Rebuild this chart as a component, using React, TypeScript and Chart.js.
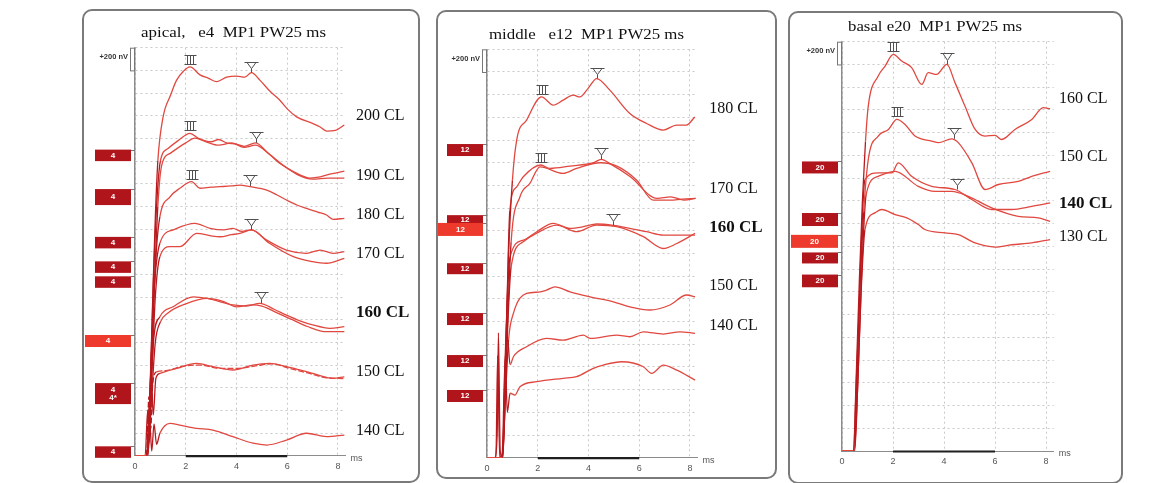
import React, { useEffect, useRef } from 'react';
import { Chart, registerables } from 'chart.js';

Chart.register(...registerables);

type Pt = [number, number];
type Peak = [string, number, number];

// x: time in ms, y: vertical position in divisions of 200 nV from the bottom of the plot

// ---------------- apical, e4 ----------------
const apical200: Pt[] = [[0, 0], [0.45, 0], [0.58, 2.5], [0.7, 7], [0.8, 10.5], [0.9, 13.0], [1.1, 14.9], [1.4, 15.9], [1.64, 16.57], [1.9, 16.95], [2.17, 17.15], [2.56, 16.8], [2.9, 16.65], [3.22, 16.5], [3.61, 16.7], [4.0, 16.75], [4.33, 16.7], [4.59, 16.9], [4.92, 16.57], [5.3, 16.1], [5.71, 15.68], [6.0, 15.3], [6.37, 14.95], [7.0, 14.66], [7.3, 14.5], [7.55, 14.32], [7.9, 14.35], [8.25, 14.59]];
const apical190a: Pt[] = [[0, 0], [0.45, 0], [0.6, 3], [0.72, 7.5], [0.85, 11], [1.0, 13.0], [1.3, 13.55], [1.7, 13.9], [2.17, 14.22], [2.5, 14.0], [3.0, 13.85], [3.3, 13.95], [3.6, 13.8], [4.0, 13.75], [4.3, 13.65], [4.75, 13.8], [5.2, 13.4], [5.7, 12.9], [6.3, 12.5], [6.9, 12.25], [7.3, 12.3], [7.6, 12.4], [8.25, 12.55]];
const apical190b: Pt[] = [[0, 0], [0.45, 0], [0.62, 3], [0.75, 7], [0.9, 11], [1.05, 12.8], [1.4, 13.35], [2.0, 13.8], [2.36, 14.01], [2.8, 13.85], [3.3, 13.7], [3.8, 13.8], [4.3, 13.6], [4.75, 13.7], [5.3, 13.3], [5.8, 12.85], [6.4, 12.4], [7.0, 12.2], [7.6, 12.25], [8.25, 12.25]];
const apical180: Pt[] = [[0, 0], [0.45, 0], [0.6, 3], [0.72, 6.5], [0.85, 9.2], [0.98, 10.54], [1.38, 11.42], [1.77, 11.8], [2.23, 12.09], [2.56, 11.8], [3.0, 11.85], [3.35, 11.87], [3.8, 11.9], [4.13, 11.94], [4.53, 11.87], [5.19, 11.72], [5.6, 11.5], [5.97, 11.28], [6.4, 11.05], [6.76, 10.91], [7.2, 10.75], [7.55, 10.62], [7.8, 10.43], [8.25, 10.47]];
const apical170a: Pt[] = [[0, 0], [0.45, 0], [0.6, 3], [0.75, 7.2], [0.98, 9.37], [1.5, 9.96], [2.36, 10.25], [2.96, 10.03], [3.5, 9.96], [3.86, 10.03], [4.2, 9.9], [4.59, 9.96], [5.19, 9.51], [5.97, 9.07], [6.76, 8.93], [7.3, 9.07], [7.8, 8.93], [8.25, 9.0]];
const apical170b: Pt[] = [[0, 0], [0.45, 0], [0.62, 2.5], [0.8, 7], [0.98, 8.78], [1.38, 9.22], [1.77, 9.22], [2.43, 9.81], [3.0, 9.7], [3.35, 9.66], [3.8, 9.75], [4.13, 9.81], [4.59, 9.96], [5.3, 9.37], [6.24, 8.78], [7.0, 8.56], [7.55, 8.49], [8.25, 8.71]];
const apical160a: Pt[] = [[0, 0], [0.5, 0], [0.62, 3], [0.75, 5.3], [0.98, 6.13], [1.5, 6.57], [2.3, 7.01], [2.85, 6.94], [3.1, 6.87], [3.86, 6.65], [4.4, 6.6], [4.92, 6.72], [5.5, 6.45], [5.97, 6.2], [6.5, 5.95], [7.0, 5.77], [7.68, 5.62], [8.25, 5.69]];
const apical160b: Pt[] = [[0, 0], [0.5, 0], [0.65, 2.5], [0.8, 5], [1.0, 5.9], [1.3, 6.3], [2.05, 6.72], [2.84, 6.94], [3.5, 6.8], [4.0, 6.57], [4.6, 6.65], [5.0, 6.6], [5.6, 6.3], [6.2, 6.0], [6.8, 5.7], [7.55, 5.47], [8.25, 5.47]];
const apical150a: Pt[] = [[0, 0], [0.4, 0], [0.5, 2], [0.56, 0.6], [0.64, 3.4], [0.72, 1.8], [0.82, 3.4], [0.98, 3.63], [1.64, 3.85], [2.43, 4.07], [3.07, 3.93], [3.86, 3.78], [4.65, 4.0], [5.3, 4.07], [5.97, 3.93], [7.0, 3.63], [7.8, 3.41], [8.25, 3.48]];
const apical150b: Pt[] = [[0, 0], [0.45, 0], [0.55, 2.6], [0.62, 1.2], [0.7, 3.2], [0.85, 3.7], [1.2, 3.75], [1.9, 3.95], [2.6, 4.0], [3.3, 3.85], [4.0, 3.85], [4.7, 3.95], [5.4, 4.05], [6.1, 3.85], [6.8, 3.65], [7.5, 3.45], [8.25, 3.4]];
const apical140: Pt[] = [[0, 0], [0.5, 0], [0.58, 1.5], [0.66, 0.2], [0.75, 1.4], [0.85, 0.5], [0.98, 0.99], [1.38, 1.43], [1.77, 1.35], [2.43, 1.21], [3.07, 1.13], [3.86, 0.84], [4.65, 0.55], [5.19, 0.47], [5.97, 0.69], [6.76, 0.99], [7.55, 0.84], [8.25, 0.91]];
const apicalDashed = [false, false, false, false, false, false, false, false, false, true, false];
const apicalLabels = ['200 CL', '190 CL', '180 CL', '170 CL', '160 CL', '150 CL', '140 CL'];
const apicalLabelLevels = [14.98, 12.37, 10.63, 8.9, 6.33, 3.72, 1.11];
const apicalBoxTexts = ['4', '4', '4', '4', '4', '4', '4|4*', '4'];
const apicalBoxLevels = [13.25, 11.41, 9.4, 8.32, 7.66, 5.06, 2.74, 0.16];
const apicalBoxBright = [false, false, false, false, false, true, false, false];
const apicalPeaks: Peak[] = [['III', 2.17, 17.15], ['V', 4.59, 16.9], ['III', 2.17, 14.22], ['V', 4.75, 13.8], ['III', 2.23, 12.09], ['V', 4.53, 11.9], ['V', 4.59, 9.96], ['V', 4.95, 6.72]];

// ---------------- middle, e12 ----------------
const middle180: Pt[] = [[0, 0], [0.6, 0], [0.72, 4], [0.85, 9], [1.0, 12.2], [1.17, 14.0], [1.56, 14.88], [2.15, 15.9], [2.61, 15.54], [3.0, 15.76], [3.4, 15.98], [3.66, 15.9], [4.0, 16.3], [4.32, 16.71], [4.84, 16.2], [5.63, 15.17], [6.29, 14.73], [6.94, 14.44], [7.47, 14.66], [7.86, 14.66], [8.19, 15.02]];
const middle170a: Pt[] = [[0, 0], [0.6, 0], [0.75, 5], [0.9, 10.9], [1.17, 11.94], [1.43, 12.38], [2.12, 12.9], [2.48, 12.75], [3.27, 12.85], [4.2, 13.0], [4.5, 13.15], [4.86, 12.95], [5.65, 12.38], [6.7, 11.43], [7.24, 11.5], [7.76, 11.35], [8.22, 11.43]];
const middle170b: Pt[] = [[0, 0], [0.62, 0], [0.78, 5], [0.95, 9.5], [1.3, 11.5], [1.69, 12.09], [2.09, 12.82], [3.0, 12.53], [3.53, 12.75], [4.47, 13.0], [5.12, 12.85], [5.9, 12.23], [6.55, 11.35], [7.22, 11.35], [7.7, 11.4], [8.22, 11.43]];
const middle160a: Pt[] = [[0, 0], [0.62, 0], [0.72, 4.5], [0.91, 8.85], [1.43, 9.59], [1.96, 9.96], [2.61, 10.33], [3.27, 10.11], [3.8, 10.18], [4.32, 10.3], [4.98, 10.24], [5.63, 10.11], [6.29, 9.96], [6.95, 9.81], [8.2, 9.81]];
const middle160b: Pt[] = [[0, 0], [0.62, 0], [0.75, 4], [0.95, 8.4], [1.4, 9.5], [1.96, 9.9], [2.75, 10.25], [3.53, 9.96], [4.32, 10.25], [5.11, 10.18], [6.16, 9.74], [6.95, 9.22], [7.48, 9.44], [8.2, 9.89]];
const middle150: Pt[] = [[0, 0], [0.6, 0], [0.72, 2.5], [0.85, 5.2], [1.04, 6.36], [1.56, 7.24], [2.05, 7.3], [2.35, 7.39], [2.68, 7.53], [3.27, 7.31], [4.06, 7.09], [4.98, 6.87], [5.63, 6.65], [6.42, 6.51], [7.21, 6.73], [7.87, 7.17], [8.2, 7.09]];
const middle140a: Pt[] = [[0, 0], [0.3, 0], [0.4, 1], [0.45, 5.5], [0.52, 0.3], [0.6, 0], [0.7, 3], [0.8, 5.4], [0.91, 4.1], [1.04, 4.45], [1.56, 4.89], [2.35, 5.26], [3.0, 5.18], [3.8, 5.4], [4.06, 5.26], [5.11, 5.4], [5.63, 5.33], [6.16, 5.55], [6.95, 5.45], [7.6, 5.55], [8.2, 5.48]];
const middle140b: Pt[] = [[0, 0], [0.35, 0], [0.42, 4.5], [0.5, 0], [0.6, 0.2], [0.72, 4.5], [0.8, 2], [0.91, 2.84], [1.1, 2.76], [1.3, 3.13], [1.96, 3.35], [3.0, 3.5], [3.53, 3.57], [4.19, 3.94], [4.58, 4.08], [5.31, 4.23], [6.16, 4.01], [6.49, 3.72], [6.95, 4.08], [7.48, 3.86], [8.2, 3.42]];
const middleDashed = [false, false, false, false, false, false, false, false];
const middleLabels = ['180 CL', '170 CL', '160 CL', '150 CL', '140 CL'];
const middleLabelLevels = [15.39, 11.87, 10.14, 7.56, 5.82];
const middleBoxTexts = ['12', '12', '12', '12', '12', '12', '12'];
const middleBoxLevels = [13.56, 10.47, 10.06, 8.33, 6.11, 4.26, 2.72];
const middleBoxBright = [false, false, true, false, false, false, false];
const middlePeaks: Peak[] = [['III', 2.15, 15.9], ['V', 4.32, 16.71], ['III', 2.12, 12.9], ['V', 4.5, 13.15], ['V', 4.98, 10.24]];

// ---------------- basal, e20 ----------------
const basal160: Pt[] = [[0, 0], [0.45, 0], [0.55, 3], [0.68, 7.5], [0.8, 11], [0.92, 13.6], [1.03, 15.17], [1.42, 16.49], [1.69, 16.93], [2.01, 17.44], [2.34, 17.15], [2.73, 16.86], [3.13, 16.12], [3.38, 16.64], [3.71, 16.56], [4.11, 17.0], [4.43, 16.2], [4.82, 15.17], [5.22, 14.14], [5.61, 13.85], [6.0, 13.88], [6.26, 13.7], [6.78, 14.14], [7.44, 14.58], [7.89, 15.1], [8.16, 15.05]];
const basal150: Pt[] = [[0, 0], [0.45, 0], [0.56, 3], [0.7, 7], [0.85, 10.5], [1.03, 12.82], [1.42, 13.85], [1.82, 14.14], [2.15, 14.58], [2.47, 14.36], [2.86, 13.85], [3.52, 13.63], [3.78, 13.56], [4.3, 13.73], [4.56, 13.56], [5.09, 12.67], [5.61, 11.5], [6.13, 11.72], [6.91, 11.86], [7.44, 12.08], [8.16, 12.3]];
const basal140a: Pt[] = [[0, 0], [0.48, 0], [0.6, 3.5], [0.72, 8], [0.9, 11.94], [1.42, 12.23], [1.95, 12.23], [2.21, 12.67], [2.73, 12.08], [3.52, 11.64], [4.43, 11.5], [5.09, 11.06], [5.87, 10.62], [6.65, 10.62], [7.44, 10.76], [8.16, 10.91]];
const basal140b: Pt[] = [[0, 0], [0.48, 0], [0.62, 3], [0.76, 7.5], [0.95, 11.3], [1.42, 12.08], [2.08, 12.3], [2.99, 11.64], [3.65, 11.42], [4.3, 11.42], [4.95, 11.2], [5.87, 10.69], [6.91, 10.32], [7.7, 10.25], [8.16, 10.1]];
const basal130: Pt[] = [[0, 0], [0.5, 0], [0.62, 3], [0.75, 7], [0.9, 9.74], [1.29, 10.47], [1.56, 10.62], [2.08, 10.4], [2.54, 10.25], [2.99, 9.96], [3.25, 9.74], [4.04, 9.59], [4.56, 9.52], [5.22, 9.15], [6.0, 8.97], [6.65, 9.07], [7.44, 9.15], [8.16, 9.3]];
const basalDashed = [false, false, false, false, false];
const basalLabels = ['160 CL', '150 CL', '140 CL', '130 CL'];
const basalLabelLevels = [15.5, 12.92, 10.87, 9.41];
const basalBoxTexts = ['20', '20', '20', '20', '20'];
const basalBoxLevels = [12.47, 10.18, 9.22, 8.49, 7.48];
const basalBoxBright = [false, false, true, false, false];
const basalPeaks: Peak[] = [['III', 2.01, 17.44], ['V', 4.11, 17.0], ['III', 2.15, 14.58], ['V', 4.4, 13.73], ['V', 4.5, 11.5]];

const xTickStep = 2;
const yDivisions = 18;

interface PanelCfg {
  title: string;
  titleCx: number;
  titleBase: number;
  titleW: number;
  box: { x: number; y: number; w: number; h: number };
  area: { l: number; t: number; r: number; b: number };
  xMax: number;
  traces: Pt[][];
  dashed: boolean[];
  labels: string[];
  labelLevels: number[];
  boldLabel: string;
  labelDx: number;
  boxTexts: string[];
  boxLevels: number[];
  boxBright: boolean[];
  boxH: number[];
  brightW: number;
  peaks: Peak[];
}

const PANELS: PanelCfg[] = [
  {
    title: 'apical,   e4  MP1 PW25 ms', titleCx: 233.5, titleBase: 36.5, titleW: 185,
    box: { x: 83, y: 10, w: 334, h: 470 }, area: { l: 135, t: 47.7, r: 345.6, b: 455.7 }, xMax: 8.3,
    traces: [apical200, apical190a, apical190b, apical180, apical170a, apical170b, apical160a, apical160b, apical150a, apical150b, apical140],
    dashed: apicalDashed, labels: apicalLabels, labelLevels: apicalLabelLevels, boldLabel: '160 CL', labelDx: 10.4,
    boxTexts: apicalBoxTexts, boxLevels: apicalBoxLevels, boxBright: apicalBoxBright,
    boxH: [11.5, 16, 11.5, 11.5, 11.5, 12, 21, 11.5], brightW: 46, peaks: apicalPeaks,
  },
  {
    title: 'middle   e12  MP1 PW25 ms', titleCx: 586.5, titleBase: 39, titleW: 195,
    box: { x: 437, y: 11, w: 337, h: 465 }, area: { l: 487, t: 49.3, r: 697.6, b: 457.7 }, xMax: 8.3,
    traces: [middle180, middle170a, middle170b, middle160a, middle160b, middle150, middle140a, middle140b],
    dashed: middleDashed, labels: middleLabels, labelLevels: middleLabelLevels, boldLabel: '160 CL', labelDx: 11.7,
    boxTexts: middleBoxTexts, boxLevels: middleBoxLevels, boxBright: middleBoxBright,
    boxH: [12, 10, 13, 11, 12, 12, 12], brightW: 45, peaks: middlePeaks,
  },
  {
    title: 'basal e20  MP1 PW25 ms', titleCx: 935, titleBase: 30.7, titleW: 174,
    box: { x: 789, y: 12, w: 331, h: 469 }, area: { l: 842, t: 41.7, r: 1053.7, b: 451 }, xMax: 8.3,
    traces: [basal160, basal150, basal140a, basal140b, basal130],
    dashed: basalDashed, labels: basalLabels, labelLevels: basalLabelLevels, boldLabel: '140 CL', labelDx: 5.3,
    boxTexts: basalBoxTexts, boxLevels: basalBoxLevels, boxBright: basalBoxBright,
    boxH: [12, 13, 13, 11, 12.7], brightW: 47, peaks: basalPeaks,
  },
];

const TRACE = '#e04840';
const DARK = '#b81a1e';
const GRID = '#c9c9c9';
const AXIS = '#8c8c8c';
const TICK_FONT = 9;
const TICK_PAD = 5;
const EXTRA_H = 30;

function Panel({ cfg }: { cfg: PanelCfg }) {
  const ref = useRef<HTMLCanvasElement>(null);
  useEffect(() => {
    const canvas = ref.current;
    if (!canvas) return;
    const { box, area } = cfg;
    const canvasH = box.h + EXTRA_H;
    const axisH = TICK_FONT * 1.2 + TICK_PAD * 2;

    const overlay = {
      id: 'overlay',
      afterDatasetsDraw(chart: any) {
        const ctx: CanvasRenderingContext2D = chart.ctx;
        const xs = chart.scales.x;
        const ys = chart.scales.y;
        const ca = chart.chartArea;
        ctx.save();

        // title
        ctx.font = '15px "Liberation Serif", "Times New Roman", serif';
        ctx.fillStyle = '#111';
        ctx.textBaseline = 'alphabetic';
        ctx.textAlign = 'left';
        const tw = ctx.measureText(cfg.title).width;
        ctx.save();
        ctx.translate(cfg.titleCx - box.x - cfg.titleW / 2, cfg.titleBase - box.y);
        ctx.scale(cfg.titleW / tw, 1);
        ctx.fillText(cfg.title, 0, 0);
        ctx.restore();

        // scale bar + label
        const barTop = ys.getPixelForValue(yDivisions);
        const barBot = ys.getPixelForValue(yDivisions - 1);
        ctx.fillStyle = '#fff';
        ctx.fillRect(ca.left - 4, barTop, 4, barBot - barTop);
        ctx.strokeStyle = '#777';
        ctx.lineWidth = 1;
        ctx.strokeRect(ca.left - 4.5, barTop + 0.5, 4, barBot - barTop);
        ctx.font = 'bold 7.5px "Liberation Sans", Arial, sans-serif';
        ctx.fillStyle = '#333';
        ctx.textAlign = 'right';
        ctx.textBaseline = 'middle';
        ctx.fillText('+200 nV', ca.left - 7, barTop + 9.5);

        // thick time bar 2..6 ms on the axis
        ctx.strokeStyle = '#1f1f1f';
        ctx.lineWidth = 2.2;
        ctx.beginPath();
        ctx.moveTo(xs.getPixelForValue(2), ca.bottom + 0.5);
        ctx.lineTo(xs.getPixelForValue(6), ca.bottom + 0.5);
        ctx.stroke();

        // ms label
        ctx.font = `${TICK_FONT}px "Liberation Sans", Arial, sans-serif`;
        ctx.fillStyle = '#555';
        ctx.textAlign = 'left';
        ctx.textBaseline = 'middle';
        ctx.fillText('ms', ca.right + 5, ca.bottom + 2.5);

        // stimulus level boxes
        cfg.boxLevels.forEach((lv, i) => {
          const cy = ys.getPixelForValue(lv);
          const h = cfg.boxH[i];
          const right = ca.left - 4;
          const w = cfg.boxBright[i] ? cfg.brightW : 36;
          ctx.fillStyle = cfg.boxBright[i] ? '#ee3a2c' : '#b0151c';
          ctx.fillRect(right - w, cy - h / 2, w, h);
          ctx.strokeStyle = '#777';
          ctx.lineWidth = 1;
          ctx.beginPath();
          ctx.moveTo(right, Math.round(cy - h / 2) + 0.5);
          ctx.lineTo(ca.left, Math.round(cy - h / 2) + 0.5);
          ctx.stroke();
          const lines = cfg.boxTexts[i].split('|');
          ctx.fillStyle = '#fff';
          ctx.font = 'bold 8px "Liberation Sans", Arial, sans-serif';
          ctx.textAlign = 'center';
          ctx.textBaseline = 'middle';
          const lh = 8.5;
          lines.forEach((s, k) => {
            ctx.fillText(s, right - w / 2, cy + (k - (lines.length - 1) / 2) * lh);
          });
        });

        // CL labels
        cfg.labels.forEach((s, i) => {
          const bold = s === cfg.boldLabel;
          ctx.font = bold ? 'bold 17px "Liberation Serif", "Times New Roman", serif' : '16px "Liberation Serif", "Times New Roman", serif';
          ctx.fillStyle = '#111';
          ctx.textAlign = 'left';
          ctx.textBaseline = 'middle';
          ctx.fillText(s, ca.right + cfg.labelDx, ys.getPixelForValue(cfg.labelLevels[i]));
        });

        // peak markers
        ctx.strokeStyle = '#505050';
        ctx.lineWidth = 1;
        cfg.peaks.forEach(([name, t, v]) => {
          const px = Math.round(xs.getPixelForValue(t)) + 0.5;
          const py = ys.getPixelForValue(v);
          ctx.beginPath();
          if (name === 'III') {
            const top = Math.round(py - 12) + 0.5;
            const bot = Math.round(py - 3) + 0.5;
            ctx.moveTo(px - 6, top); ctx.lineTo(px + 6, top);
            ctx.moveTo(px - 6, bot); ctx.lineTo(px + 6, bot);
            [-3, 0, 3].forEach((d) => { ctx.moveTo(px + d, top); ctx.lineTo(px + d, bot); });
          } else {
            const top = Math.round(py - 11) + 0.5;
            ctx.moveTo(px - 7, top); ctx.lineTo(px + 7, top);
            ctx.moveTo(px - 4.5, top); ctx.lineTo(px, py - 4); ctx.lineTo(px + 4.5, top);
            ctx.moveTo(px, py - 4); ctx.lineTo(px, py);
          }
          ctx.stroke();
        });

        ctx.restore();
      },
    };

    const datasets = cfg.traces.map((tr, i) => ({
      data: tr.map(([x, y]) => ({ x, y })),
      borderColor: TRACE,
      borderWidth: 1.3,
      borderDash: cfg.dashed[i] ? [6, 2] : [],
      pointRadius: 0,
      cubicInterpolationMode: 'monotone' as const,
      segment: {
        borderColor: (c: any) => (c.p0.parsed.x >= 0.3 && c.p1.parsed.x <= 1.0 ? DARK : undefined),
      },
    }));

    const chart = new Chart(canvas, {
      type: 'line',
      data: { datasets },
      plugins: [overlay],
      options: {
        responsive: false,
        animation: false,
        events: [],
        layout: {
          padding: {
            left: area.l - box.x,
            right: box.x + box.w - area.r,
            top: area.t - box.y,
            bottom: box.y + canvasH - area.b - axisH,
          },
        },
        plugins: { legend: { display: false }, tooltip: { enabled: false }, title: { display: false } },
        scales: {
          x: {
            type: 'linear',
            min: 0,
            max: cfg.xMax,
            ticks: {
              stepSize: xTickStep,
              includeBounds: false,
              autoSkip: false,
              maxRotation: 0,
              padding: TICK_PAD,
              color: '#555',
              font: { size: TICK_FONT, family: '"Liberation Sans", Arial, sans-serif' },
            },
            grid: { color: GRID, drawTicks: false, lineWidth: 1 },
            border: { display: true, color: AXIS, width: 1, dash: [2, 3] },
          },
          y: {
            type: 'linear',
            min: 0,
            max: yDivisions,
            ticks: { display: false, stepSize: 1 },
            grid: { color: GRID, drawTicks: false, lineWidth: 1 },
            border: { display: true, color: AXIS, width: 1.5, dash: [2, 3] },
          },
        },
      },
    });
    return () => chart.destroy();
  }, [cfg]);

  const { box } = cfg;
  return (
    <>
      <canvas
        ref={ref}
        width={box.w}
        height={box.h + EXTRA_H}
        style={{ position: 'absolute', left: box.x, top: box.y, width: box.w, height: box.h + EXTRA_H }}
      />
      <div
        style={{
          position: 'absolute', left: box.x - 1, top: box.y - 1, width: box.w, height: box.h,
          border: '2px solid #7a7a7a', borderRadius: 10, pointerEvents: 'none',
        }}
      />
    </>
  );
}

export default function App() {
  return (
    <div style={{ position: 'fixed', left: 0, top: 0, width: 1156, height: 483, background: '#fff', overflow: 'hidden' }}>
      {PANELS.map((p, i) => (
        <Panel key={i} cfg={p} />
      ))}
    </div>
  );
}
